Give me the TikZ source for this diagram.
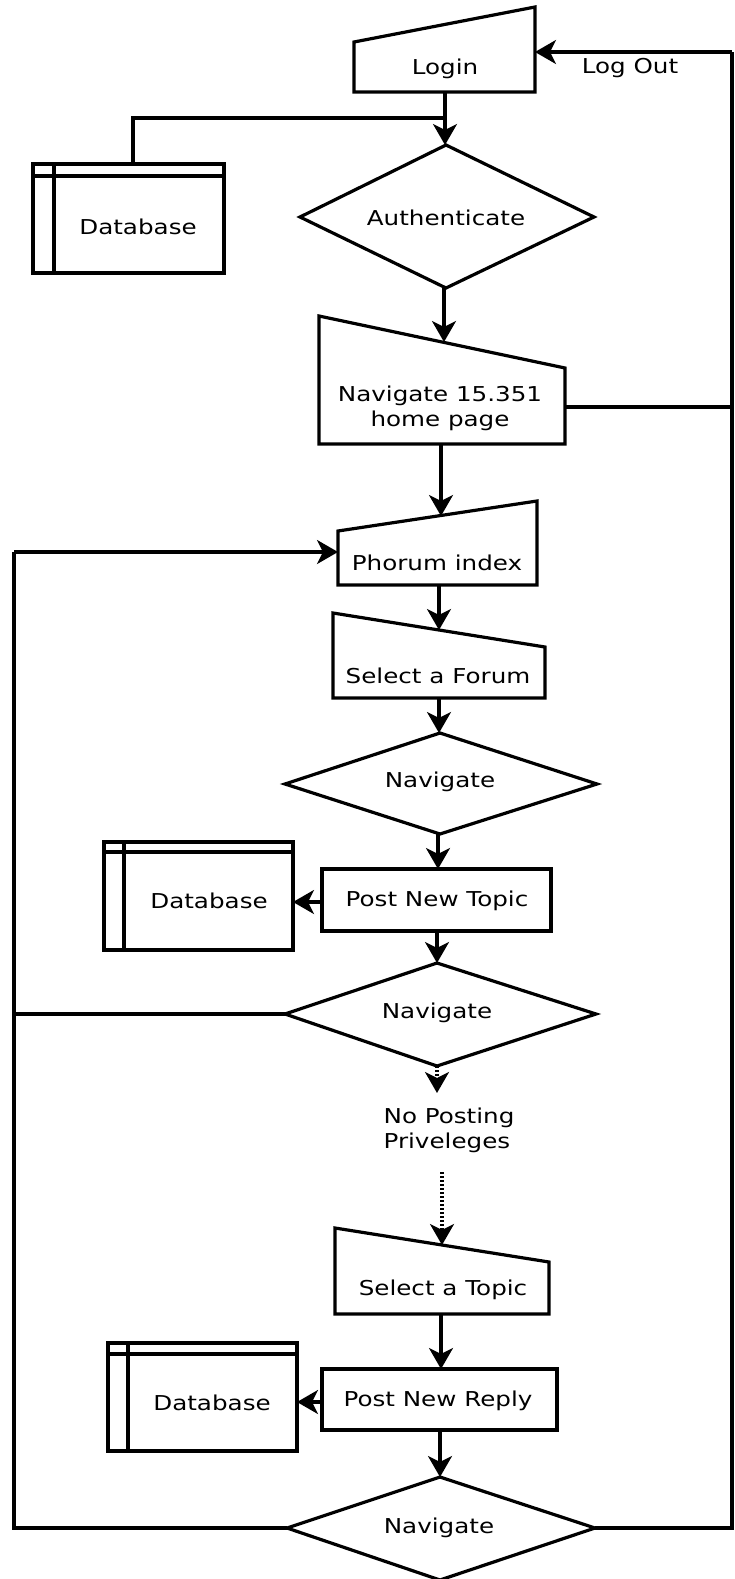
\documentclass[tikz,border=0pt]{standalone}
\usepackage{fontspec}
\setmainfont[FakeStretch=1.2]{DejaVu Sans}
\usetikzlibrary{arrows.meta}
\begin{document}
\begin{tikzpicture}[x=1pt,y=-1pt,
  ln/.style={line width=3.2pt},
  arr/.style={ln,-{Stealth[length=21pt,width=24pt,inset=6pt]}},
  darr/.style={arr, dash pattern=on 2.2pt off 1.8pt},
  lbl/.style={font=\fontsize{20.5}{25}\selectfont, inner sep=0pt, align=center},
  shp/.style={ln, line join=miter}]
\useasboundingbox (0,0) rectangle (735,1579);

% ---------- shapes ----------
% Login (manual input)
\draw[shp] (354,92) -- (354,42) -- (535,7) -- (535,92) -- cycle;
\node[lbl] (login) at (445,69) {Login};
\coordinate (loginR) at (535,52);
\coordinate (loginB) at (445,92);

% Database 1
\draw[shp] (33,164) rectangle (224,273);
\draw[ln] (54,164) -- (54,273);
\draw[ln] (33,176) -- (224,176);
\node[lbl] (db1) at (138,227) {Database};
\coordinate (db1T) at (133,164);

% Authenticate diamond
\draw[shp] (446,145) -- (594,217) -- (446,288) -- (300,217) -- cycle;
\node[lbl] (auth) at (446,218) {Authenticate};
\coordinate (authT) at (445,145);
\coordinate (authB) at (444,288);

% Navigate 15.351 home page
\draw[shp] (319,444) -- (319,316) -- (565,368) -- (565,444) -- cycle;
\node[lbl] (home) at (440,408) {Navigate 15.351\\home page};
\coordinate (homeT) at (444,342);
\coordinate (homeB) at (441,444);
\coordinate (homeR) at (565,407);

% Phorum index
\draw[shp] (338,585) -- (338,531) -- (537,501) -- (537,585) -- cycle;
\node[lbl] (phorum) at (437,563) {Phorum index};
\coordinate (phorumT) at (441,516);
\coordinate (phorumB) at (439,585);
\coordinate (phorumL) at (338,552);

% Select a Forum
\draw[shp] (333,698) -- (333,613) -- (545,647) -- (545,698) -- cycle;
\node[lbl] (forum) at (438,676) {Select a Forum};
\coordinate (forumT) at (439,630);
\coordinate (forumB) at (439,698);

% Navigate 1
\draw[shp] (440,733) -- (597,784) -- (440,834) -- (285,784) -- cycle;
\node[lbl] (nav1) at (440,782) {Navigate};
\coordinate (nav1T) at (439,733);
\coordinate (nav1B) at (438,834);

% Post New Topic
\draw[shp] (322,869) rectangle (551,931);
\node[lbl] (pnt) at (437,901) {Post New Topic};
\coordinate (pntT) at (438,869);
\coordinate (pntB) at (437,931);
\coordinate (pntL) at (322,902);

% Database 2
\draw[shp] (104,842) rectangle (293,950);
\draw[ln] (124,842) -- (124,950);
\draw[ln] (104,852) -- (293,852);
\node[lbl] (db2) at (209,901) {Database};
\coordinate (db2R) at (293,902);

% Navigate 2
\draw[shp] (437,963) -- (596,1014) -- (437,1066) -- (285,1014) -- cycle;
\node[lbl] (nav2) at (437,1013) {Navigate};
\coordinate (nav2T) at (437,963);
\coordinate (nav2B) at (437,1066);
\coordinate (nav2L) at (285,1014);

% No Posting Priveleges
\node[lbl, align=left] (nopost) at (449,1130) {No Posting\\Priveleges};
\coordinate (nopostT) at (437,1093);
\coordinate (nopostB) at (442,1172);

% Select a Topic
\draw[shp] (335,1314) -- (335,1228) -- (549,1262) -- (549,1314) -- cycle;
\node[lbl] (topic) at (443,1290) {Select a Topic};
\coordinate (topicT) at (442,1245);
\coordinate (topicB) at (441,1314);

% Post New Reply
\draw[shp] (322,1369) rectangle (557,1430);
\node[lbl] (pnr) at (438,1401) {Post New Reply};
\coordinate (pnrT) at (441,1369);
\coordinate (pnrB) at (440,1430);
\coordinate (pnrL) at (322,1402);

% Database 3
\draw[shp] (108,1343) rectangle (297,1451);
\draw[ln] (128,1343) -- (128,1451);
\draw[ln] (108,1354) -- (297,1354);
\node[lbl] (db3) at (212,1403) {Database};
\coordinate (db3R) at (297,1402);

% Navigate 3
\draw[shp] (440,1477) -- (595,1528) -- (440,1580) -- (287,1528) -- cycle;
\node[lbl] (nav3) at (439,1528) {Navigate};
\coordinate (nav3T) at (440,1477);
\coordinate (nav3L) at (287,1528);
\coordinate (nav3R) at (595,1528);

% Log Out label
\node[lbl] (logout) at (630,68) {Log Out};

% loop corners
\coordinate (rTop) at (732,52);
\coordinate (rMid) at (732,407);
\coordinate (rBot) at (732,1528);
\coordinate (lTop) at (14,552);
\coordinate (lMid) at (14,1014);
\coordinate (lBot) at (14,1528);

% ---------- connectors ----------
\draw[arr] (loginB) -- (authT);
\draw[ln] (db1T) -- (133,118) -- (loginB |- 0,118);
\draw[arr] (authB) -- (homeT);
\draw[arr] (homeB) -- (phorumT);
\draw[arr] (phorumB) -- (forumT);
\draw[arr] (forumB) -- (nav1T);
\draw[arr] (nav1B) -- (pntT);
\draw[arr] (pntL) -- (db2R);
\draw[arr] (pntB) -- (nav2T);
\draw[darr] (nav2B) -- (nopostT);
\draw[darr] (nopostB) -- (topicT);
\draw[arr] (topicB) -- (pnrT);
\draw[arr] (pnrL) -- (db3R);
\draw[arr] (pnrB) -- (nav3T);
% right loop (Log Out)
\draw[ln] (nav3R) -- (rBot) -- (rTop);
\draw[ln] (homeR) -- (rMid);
\draw[arr] (rTop) -- (loginR);
% left loop
\draw[ln] (nav3L) -- (lBot) -- (lTop);
\draw[ln] (nav2L) -- (lMid);
\draw[arr] (lTop) -- (phorumL);
\end{tikzpicture}
\end{document}
